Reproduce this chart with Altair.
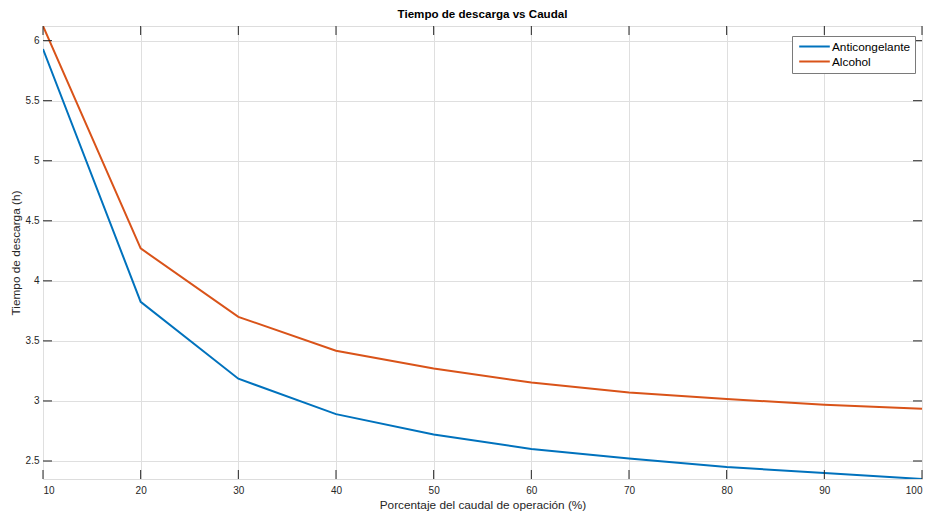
import altair as alt
import pandas as pd

caudal = [10, 20, 30, 40, 50, 60, 70, 80, 90, 100]
anticongelante = [5.93, 3.825, 3.185, 2.89, 2.72, 2.60, 2.52, 2.45, 2.40, 2.35]
alcohol = [6.122, 4.27, 3.70, 3.418, 3.27, 3.153, 3.07, 3.016, 2.969, 2.935]
series = ["Anticongelante", "Alcohol"]
colors = ["#0072BD", "#D95319"]
x_ticks = [10, 20, 30, 40, 50, 60, 70, 80, 90, 100]
y_ticks = [2.5, 3, 3.5, 4, 4.5, 5, 5.5, 6]

FONT = "Liberation Sans"
AXC = "#262626"
W, H = 879, 453
TICK = 9

rows = []
for c, a, b in zip(caudal, anticongelante, alcohol):
    rows.append({"caudal": c, "tiempo": a, "serie": series[0]})
    rows.append({"caudal": c, "tiempo": b, "serie": series[1]})
df = pd.DataFrame(rows)
ydf = pd.DataFrame({"tiempo": y_ticks})
xdf = pd.DataFrame({"caudal": x_ticks})

x_scale = alt.Scale(domain=[10, 100], nice=False, zero=False)
y_scale = alt.Scale(domain=[2.35, 6.122], nice=False, zero=False)

axis_common = dict(
    grid=True, gridColor="#dfdfdf", gridWidth=1, ticks=False, domain=False,
    labelFont=FONT, labelFontSize=10, labelColor=AXC,
    titleFont=FONT, titleFontSize=11.8, titleColor=AXC, titleFontWeight="normal",
)
x_axis = alt.Axis(values=x_ticks, format="d",
                  title="Porcentaje del caudal de operación (%)",
                  labelPadding=6, titlePadding=4, **axis_common)
y_axis = alt.Axis(values=y_ticks, format="~g",
                  title="Tiempo de descarga (h)",
                  labelPadding=4, titlePadding=4, **axis_common)

X = alt.X("caudal:Q", scale=x_scale, axis=x_axis, title="Porcentaje del caudal de operación (%)")
Y = alt.Y("tiempo:Q", scale=y_scale, axis=y_axis, title="Tiempo de descarga (h)")

lines = alt.Chart(df).mark_line(strokeWidth=2, clip=True).encode(
    x=X, y=Y,
    color=alt.Color("serie:N", scale=alt.Scale(domain=series, range=colors),
                    legend=alt.Legend(title=None, orient="none", legendX=749, legendY=10,
                                      fillColor="white", strokeColor="#7a7a7a",
                                      padding=4, rowPadding=1,
                                      labelFont=FONT, labelFontSize=11.8, labelColor="black",
                                      symbolType="M-3,0L3,0", symbolSize=104,
                                      symbolStrokeWidth=2, symbolOffset=12, labelOffset=11)),
)


def yt(x0, x1):
    return alt.Chart(ydf).mark_rule(color=AXC, strokeWidth=1).encode(
        y=Y, x=alt.value(x0), x2=alt.value(x1))


def xt(y0, y1):
    return alt.Chart(xdf).mark_rule(color=AXC, strokeWidth=1).encode(
        x=X, y=alt.value(y0), y2=alt.value(y1))


chart = alt.layer(
    lines, yt(0, TICK), yt(W - TICK, W), xt(H, H - TICK), xt(0, TICK)
).properties(
    width=W, height=H,
    title=alt.Title("Tiempo de descarga vs Caudal", font=FONT, fontSize=11.6,
                    fontWeight="bold", color="black", anchor="middle",
                    frame="group", offset=5),
    autosize=alt.AutoSizeParams(type="none"),
    padding={"left": 43, "top": 26, "right": 8, "bottom": 35},
).configure_view(stroke=AXC, strokeWidth=1).configure(background="white")

chart.save("out.html", embed_options={"renderer": "svg", "actions": False})
